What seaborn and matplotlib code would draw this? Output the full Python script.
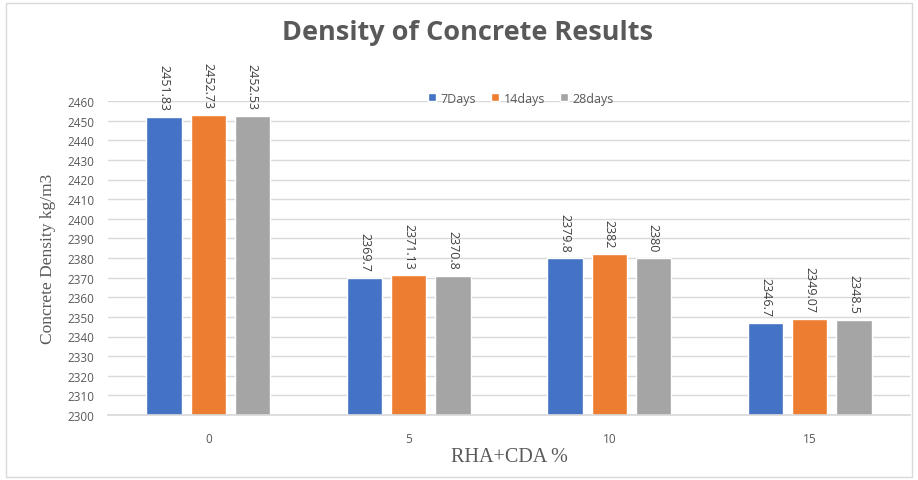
import matplotlib
matplotlib.use("Agg")
import matplotlib.pyplot as plt
import seaborn as sns
import pandas as pd
from matplotlib.patches import Rectangle

categories = ["0", "5", "10", "15"]
series_names = ["7Days", "14days", "28days"]
days7 = [2451.83, 2369.7, 2379.8, 2346.7]
days14 = [2452.73, 2371.13, 2382, 2349.07]
days28 = [2452.53, 2370.8, 2380, 2348.5]
label_texts = [["2451.83", "2369.7", "2379.8", "2346.7"],
               ["2452.73", "2371.13", "2382", "2349.07"],
               ["2452.53", "2370.8", "2380", "2348.5"]]
colors = ["#4472C4", "#ED7D31", "#A5A5A5"]

rows = []
for name, vals in zip(series_names, [days7, days14, days28]):
    for c, v in zip(categories, vals):
        rows.append({"cat": c, "series": name, "value": v})
df = pd.DataFrame(rows)

sns.set_theme(style="white")
plt.rcParams["font.family"] = ["Open Sans", "DejaVu Sans"]

fig = plt.figure(figsize=(9.18, 4.81), dpi=100)
ax = fig.add_axes([108/918, 1-416/481, 802/918, (416-102)/481])

sns.barplot(data=df, x="cat", y="value", hue="series", order=categories,
            hue_order=series_names, palette=colors, width=0.66, gap=0.2,
            saturation=1, ax=ax, legend=True)

ax.set_ylim(2300, 2460)
ax.set_yticks(range(2300, 2461, 10))
ax.set_xlim(-0.5, 3.5)
ax.yaxis.grid(True, color="#d9d9d9", linewidth=1)
ax.set_axisbelow(True)
for s in ["top", "right", "left"]:
    ax.spines[s].set_visible(False)
ax.spines["bottom"].set_color("#d9d9d9")
ax.tick_params(axis="both", length=0, labelsize=8.5, colors="#595959")
ax.tick_params(axis="x", pad=12)
ax.tick_params(axis="y", pad=10)

for cont, labs in zip(ax.containers, label_texts):
    for bar, t in zip(cont, labs):
        x = bar.get_x() + bar.get_width()/2
        y = bar.get_height() + bar.get_y()
        ax.annotate(t, (x, y), xytext=(0, 5), textcoords="offset points",
                    rotation=-90, ha="center", va="bottom", fontsize=9,
                    color="#404040", clip_on=False)

ax.set_xlabel("RHA+CDA %", fontfamily="Liberation Serif", fontsize=14.5,
              color="#595959", labelpad=2)
ax.set_ylabel("Concrete Density kg/m3", fontfamily="Liberation Serif",
              fontsize=12.5, color="#595959", labelpad=8)

leg = ax.legend(loc="upper center", bbox_to_anchor=(0.515, 1.065), ncol=3,
                frameon=False, fontsize=9, handlelength=0.6, handleheight=0.6,
                columnspacing=1.2, handletextpad=0.4, labelcolor="#595959")

fig.text(468/918, 1-33/481, "Density of Concrete Results", ha="center",
         va="center", fontsize=19.5, fontweight="bold", color="#595959")

fig.patches.append(Rectangle((6/918, 3/481), 906/918, 474/481,
                             transform=fig.transFigure, fill=False,
                             edgecolor="#d9d9d9", linewidth=1))

fig.savefig("out.png", dpi=100)
